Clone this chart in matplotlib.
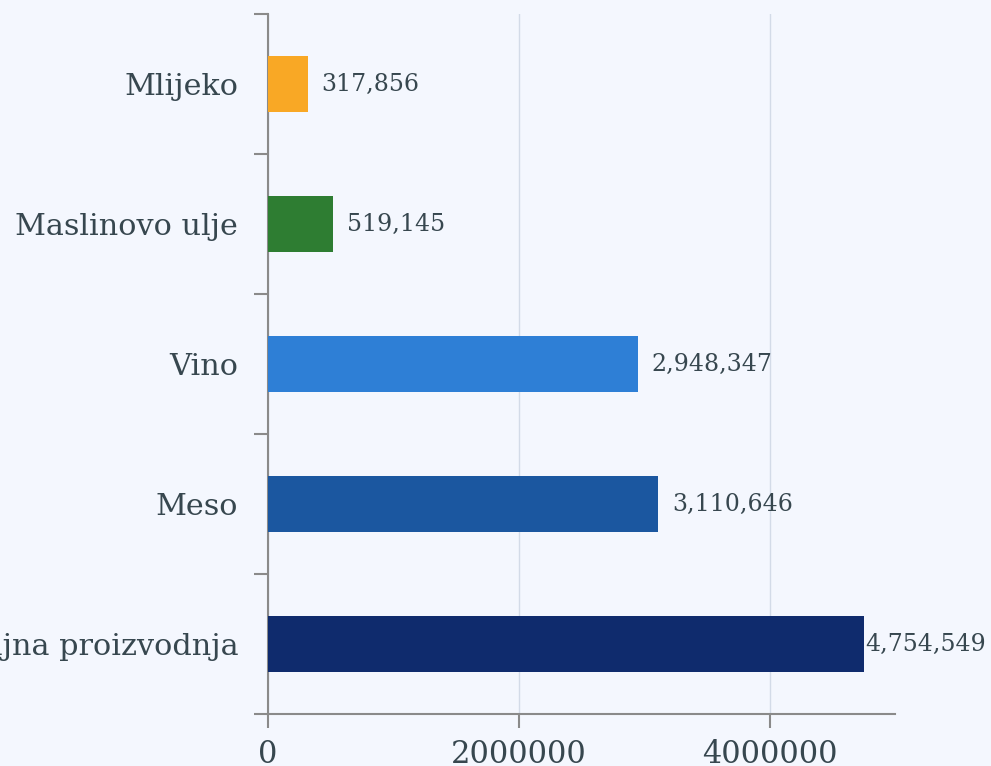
import numpy as np
import matplotlib.pyplot as plt

categories = ['Biljna proizvodnja', 'Meso', 'Vino', 'Maslinovo ulje', 'Mlijeko']
values = [4754549, 3110646, 2948347, 519145, 317856]
colors = ['#0f2b6d', '#1b57a0', '#2e7fd6', '#2e7d32', '#f9a825']
x_ticks = [0, 2000000, 4000000]

bg = '#f4f7fe'
txt = '#37474f'
axis_gray = '#8a8a8a'

plt.rcParams['font.family'] = ['DejaVu Serif']

fig = plt.figure(figsize=(9.91, 7.66), dpi=100, facecolor=bg)
ax = fig.add_axes([268 / 991, 52 / 766, 627 / 991, 700 / 766])
ax.set_facecolor(bg)

y = np.arange(len(categories))
ax.barh(y, values, height=0.4, color=colors, zorder=3)

ax.set_xlim(0, 5000000)
ax.set_ylim(-0.5, len(categories) - 0.5)
ax.set_xticks(x_ticks)
ax.set_xticklabels([str(t) for t in x_ticks])
ax.set_yticks(y)
ax.set_yticklabels(categories)
ax.set_yticks(np.arange(-0.5, len(categories), 1), minor=True)

ax.tick_params(axis='y', which='major', length=0, pad=21.5, labelsize=21.8, labelcolor=txt)
ax.tick_params(axis='y', which='minor', length=10, width=1.5, color=axis_gray, direction='out')
ax.tick_params(axis='x', which='major', length=10, width=1.5, color=axis_gray, direction='out',
               pad=8, labelsize=22, labelcolor=txt)

ax.grid(axis='x', color='#d3dbe8', linewidth=1, zorder=0)
for s in ['top', 'right']:
    ax.spines[s].set_visible(False)
for s in ['left', 'bottom']:
    ax.spines[s].set_color(axis_gray)
    ax.spines[s].set_linewidth(1.5)

for yi, v in zip(y, values):
    pad = 1 if v == max(values) else 10
    ax.annotate(f'{v:,}', (v, yi), xytext=(pad, 0), textcoords='offset points',
                va='center', ha='left', fontsize=17, color=txt, zorder=4)

fig.savefig('out.png', dpi=100, facecolor=bg)
